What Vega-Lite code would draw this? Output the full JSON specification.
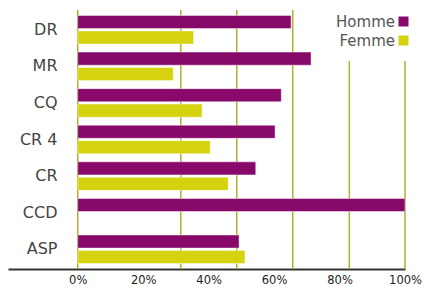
{
  "$schema": "https://vega.github.io/schema/vega-lite/v6.json",
  "width": 397,
  "height": 259,
  "autosize": "none",
  "padding": {"left": 8, "top": 10, "right": 25, "bottom": 18},
  "background": "white",
  "config": {"view": {"stroke": null}, "font": "DejaVu Sans"},
  "datasets": {
    "bars": [
      {"cat": "DR", "sexe": "Homme", "v": 0.652},
      {"cat": "DR", "sexe": "Femme", "v": 0.354},
      {"cat": "MR", "sexe": "Homme", "v": 0.713},
      {"cat": "MR", "sexe": "Femme", "v": 0.292},
      {"cat": "CQ", "sexe": "Homme", "v": 0.622},
      {"cat": "CQ", "sexe": "Femme", "v": 0.38},
      {"cat": "CR 4", "sexe": "Homme", "v": 0.603},
      {"cat": "CR 4", "sexe": "Femme", "v": 0.405},
      {"cat": "CR", "sexe": "Homme", "v": 0.544},
      {"cat": "CR", "sexe": "Femme", "v": 0.46},
      {"cat": "CCD", "sexe": "Homme", "v": 1.0},
      {"cat": "ASP", "sexe": "Homme", "v": 0.493},
      {"cat": "ASP", "sexe": "Femme", "v": 0.511}
    ],
    "grid": [
      {"g": 0}, {"g": 0.315}, {"g": 0.486}, {"g": 0.657}, {"g": 0.83}, {"g": 1.0}
    ]
  },
  "layer": [
    {
      "data": {"name": "grid"},
      "mark": {"type": "rule", "color": "#b0ae36", "strokeWidth": 1.5},
      "encoding": {
        "x": {
          "field": "g", "type": "quantitative",
          "scale": {"domain": [-0.213, 1], "nice": false, "zero": false},
          "axis": {"values": [0, 0.2, 0.4, 0.6, 0.8, 1], "format": ".0%", "title": null, "grid": false, "ticks": false, "domain": true, "domainColor": "#333", "domainWidth": 2, "labelFontSize": 11.5, "labelColor": "#222", "labelPadding": 5, "labelFlush": false}
        }
      }
    },
    {
      "data": {"name": "bars"},
      "mark": {"type": "bar", "stroke": "white", "strokeOpacity": 0.45, "strokeWidth": 1},
      "encoding": {
        "y": {
          "field": "cat", "type": "nominal",
          "sort": ["DR", "MR", "CQ", "CR 4", "CR", "CCD", "ASP"],
          "scale": {"paddingInner": 0.22, "paddingOuter": 0.15},
          "axis": {"title": null, "domain": false, "ticks": false, "labelAlign": "right", "labelPadding": -49, "labelFontSize": 16, "labelColor": "#444"}
        },
        "yOffset": {
          "field": "sexe", "type": "nominal",
          "sort": ["Homme", "Femme"],
          "scale": {"paddingInner": 0.15}
        },
        "x": {
          "field": "v", "type": "quantitative",
          "scale": {"domain": [-0.213, 1], "nice": false, "zero": false},
          "axis": {"values": [0, 0.2, 0.4, 0.6, 0.8, 1], "format": ".0%", "title": null, "grid": false, "ticks": false, "domain": true, "domainColor": "#333", "domainWidth": 2, "labelFontSize": 11.5, "labelColor": "#222", "labelPadding": 5, "labelFlush": false}
        },
        "x2": {"datum": 0},
        "color": {
          "field": "sexe", "type": "nominal",
          "scale": {"domain": ["Homme", "Femme"], "range": ["#870a6b", "#d5d20f"]},
          "legend": {
            "title": null, "orient": "none", "legendX": 311, "legendY": -8,
            "fillColor": "white", "padding": 12,
            "symbolType": "square", "symbolSize": 100, "symbolStrokeWidth": 0, "symbolOpacity": 1, "symbolOffset": 65,
            "labelAlign": "right", "labelOffset": -16, "labelFontSize": 15, "labelColor": "#555", "rowPadding": 3
          }
        }
      }
    }
  ]
}
